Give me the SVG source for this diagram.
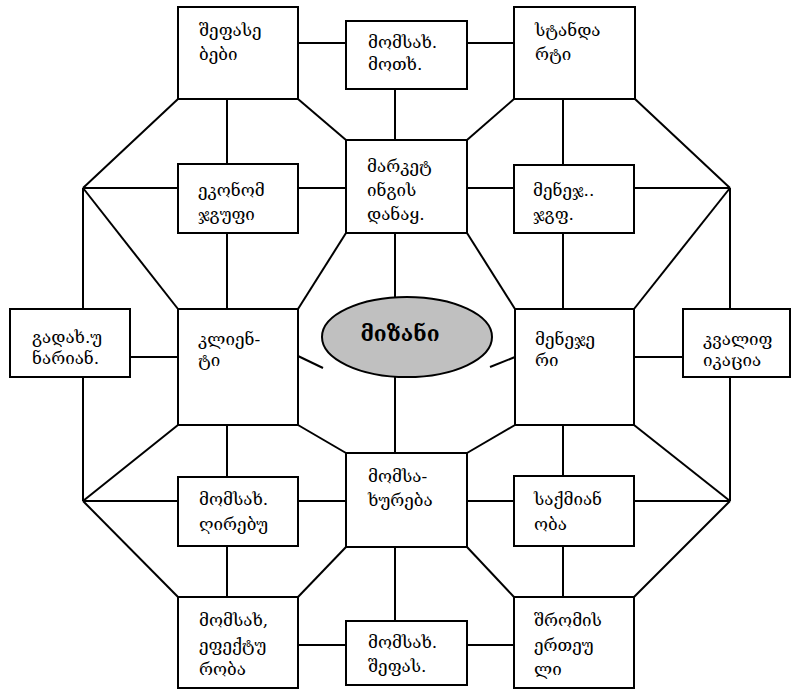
<svg xmlns="http://www.w3.org/2000/svg" width="798" height="690" viewBox="0 0 798 690">
<style>
.b{fill:#fff;stroke:#000;stroke-width:2}
.c line{stroke:#000;stroke-width:2}
text{font-family:"DejaVu Serif","DejaVu Sans",serif;font-size:17px;fill:#000}
.t{font-weight:bold;font-size:21px}
</style>
<rect width="798" height="690" fill="#fff"/>
<g class="c" id="connectors">
<line x1="298" y1="43" x2="346" y2="43"/>
<line x1="467" y1="43" x2="514" y2="43"/>
<line x1="395" y1="89" x2="395" y2="140"/>
<line x1="298" y1="99" x2="346" y2="140"/>
<line x1="514" y1="99" x2="467" y2="140"/>
<line x1="227" y1="99" x2="227" y2="164"/>
<line x1="563" y1="99" x2="563" y2="165"/>
<line x1="178" y1="99" x2="83" y2="188"/>
<line x1="635" y1="99" x2="730" y2="188"/>
<line x1="83" y1="188" x2="178" y2="188"/>
<line x1="298" y1="188" x2="346" y2="188"/>
<line x1="467" y1="188" x2="514" y2="188"/>
<line x1="634" y1="188" x2="730" y2="188"/>
<line x1="83" y1="188" x2="178" y2="309"/>
<line x1="730" y1="188" x2="634" y2="309"/>
<line x1="83" y1="188" x2="83" y2="309"/>
<line x1="730" y1="188" x2="730" y2="309"/>
<line x1="83" y1="377" x2="83" y2="501"/>
<line x1="730" y1="377" x2="730" y2="501"/>
<line x1="227" y1="233" x2="227" y2="309"/>
<line x1="563" y1="233" x2="563" y2="309"/>
<line x1="395" y1="233" x2="395" y2="297"/>
<line x1="346" y1="233" x2="298" y2="309"/>
<line x1="467" y1="233" x2="515" y2="309"/>
<line x1="130" y1="357" x2="178" y2="357"/>
<line x1="634" y1="357" x2="683" y2="357"/>
<line x1="298" y1="356" x2="323" y2="368"/>
<line x1="490" y1="367" x2="515" y2="357"/>
<line x1="395" y1="377" x2="395" y2="453"/>
<line x1="227" y1="425" x2="227" y2="477"/>
<line x1="563" y1="425" x2="563" y2="476"/>
<line x1="298" y1="425" x2="346" y2="453"/>
<line x1="515" y1="425" x2="467" y2="453"/>
<line x1="83" y1="501" x2="178" y2="425"/>
<line x1="730" y1="501" x2="634" y2="425"/>
<line x1="83" y1="501" x2="178" y2="501"/>
<line x1="298" y1="501" x2="346" y2="501"/>
<line x1="467" y1="501" x2="514" y2="501"/>
<line x1="634" y1="501" x2="730" y2="501"/>
<line x1="83" y1="501" x2="178" y2="597"/>
<line x1="730" y1="501" x2="634" y2="597"/>
<line x1="227" y1="546" x2="227" y2="597"/>
<line x1="563" y1="546" x2="563" y2="597"/>
<line x1="395" y1="547" x2="395" y2="621"/>
<line x1="346" y1="547" x2="298" y2="597"/>
<line x1="467" y1="547" x2="514" y2="597"/>
<line x1="298" y1="645" x2="346" y2="645"/>
<line x1="467" y1="645" x2="514" y2="645"/>
</g>
<g id="n1"><rect class="b" x="178" y="7" width="120" height="92"/><text x="199" y="36">შეფასე</text><text x="199" y="60">ბები</text></g>
<g id="n2"><rect class="b" x="346" y="21" width="121" height="68"/><text x="368" y="48">მომსახ.</text><text x="368" y="70">მოთხ.</text></g>
<g id="n3"><rect class="b" x="514" y="7" width="121" height="92"/><text x="535" y="36">სტანდა</text><text x="535" y="60">რტი</text></g>
<g id="n4"><rect class="b" x="178" y="164" width="120" height="69"/><text x="198" y="196">ეკონომ</text><text x="198" y="220">ჯგუფი</text></g>
<g id="n5"><rect class="b" x="346" y="140" width="121" height="93"/><text x="367" y="172">მარკეტ</text><text x="367" y="196">ინგის</text><text x="367" y="220">დანაყ.</text></g>
<g id="n6"><rect class="b" x="514" y="165" width="120" height="68"/><text x="533" y="196">მენეჯ..</text><text x="533" y="220">ჯგფ.</text></g>
<g id="n7"><rect class="b" x="10" y="309" width="120" height="68"/><text x="32" y="343">გადახ.უ</text><text x="32" y="364">ნარიან.</text></g>
<g id="n8"><rect class="b" x="178" y="309" width="120" height="116"/><text x="198" y="345">კლიენ-</text><text x="198" y="366">ტი</text></g>
<g id="n9"><ellipse cx="407" cy="337" rx="85" ry="40" fill="#c0c0c0" stroke="#000" stroke-width="2"/><text class="t" x="400" y="341" text-anchor="middle">მიზანი</text></g>
<g id="n10"><rect class="b" x="515" y="309" width="119" height="116"/><text x="535" y="345">მენეჯე</text><text x="535" y="366">რი</text></g>
<g id="n11"><rect class="b" x="683" y="309" width="107" height="68"/><text x="703" y="345">კვალიფ</text><text x="703" y="366">იკაცია</text></g>
<g id="n12"><rect class="b" x="178" y="477" width="120" height="69"/><text x="199" y="505">მომსახ.</text><text x="199" y="530">ღირებუ</text></g>
<g id="n13"><rect class="b" x="346" y="453" width="121" height="94"/><text x="368" y="482">მომსა-</text><text x="368" y="506">ხურება</text></g>
<g id="n14"><rect class="b" x="514" y="476" width="120" height="70"/><text x="534" y="505">საქმიან</text><text x="534" y="530">ობა</text></g>
<g id="n15"><rect class="b" x="178" y="597" width="120" height="91"/><text x="199" y="626">მომსახ,</text><text x="199" y="651">ეფექტუ</text><text x="199" y="675">რობა</text></g>
<g id="n16"><rect class="b" x="346" y="621" width="121" height="64"/><text x="368" y="648">მომსახ.</text><text x="368" y="672">შეფას.</text></g>
<g id="n17"><rect class="b" x="514" y="597" width="120" height="91"/><text x="534" y="626">შრომის</text><text x="534" y="651">ერთეუ</text><text x="534" y="675">ლი</text></g>
</svg>
